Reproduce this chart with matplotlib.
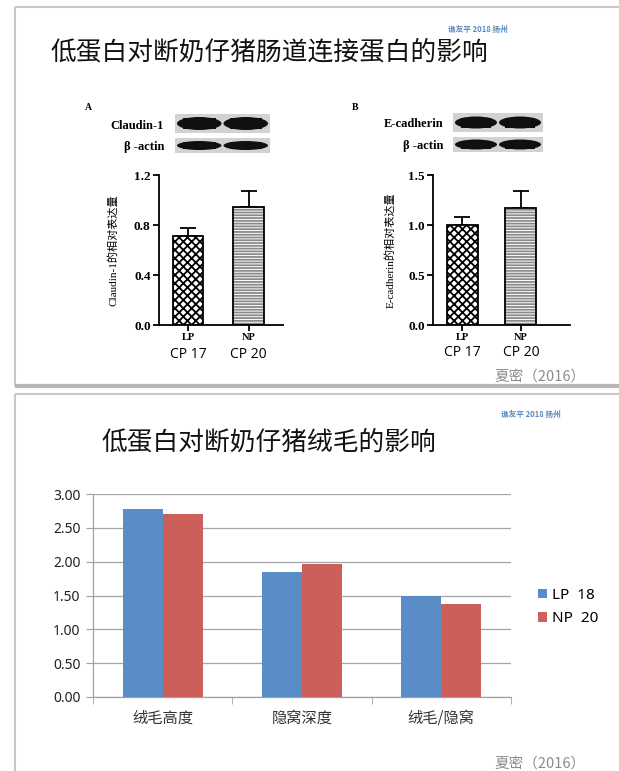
import numpy as np
import matplotlib
matplotlib.use('Agg')
import matplotlib.pyplot as plt
from matplotlib.patches import Rectangle, Ellipse

W, H = 619, 771

# ---- data ----
groups_top = ['LP', 'NP']
cp_labels_top = ['CP 17', 'CP 20']
claudin_vals = [0.71, 0.945]
claudin_err = [0.065, 0.125]
ecad_vals = [1.00, 1.175]
ecad_err = [0.078, 0.168]

villus_cats = ['绒毛高度', '隐窝深度', '绒毛/隐窝']
lp_vals = [2.78, 1.85, 1.50]
np_vals = [2.70, 1.96, 1.38]
series_names = ['LP  18', 'NP  20']

CJK = ['Noto Sans CJK SC', 'DejaVu Sans']
SERIF = ['Liberation Serif', 'Noto Sans CJK SC']
plt.rcParams['font.family'] = CJK
plt.rcParams['hatch.linewidth'] = 1.3

BLUE = '#5A8DC8'
RED = '#CD5F5B'


def rect(l, t, r, b):
    return [l / W, 1 - b / H, (r - l) / W, (b - t) / H]


fig = plt.figure(figsize=(W / 100, H / 100), dpi=100)
fig.patch.set_facecolor('white')

# overlay in pixel coords for slide frames, titles, blots
ov = fig.add_axes([0, 0, 1, 1])
ov.set_xlim(0, W)
ov.set_ylim(H, 0)
ov.axis('off')

# slide frames
ov.add_patch(Rectangle((15, 7), 640, 378, fill=False, edgecolor='#c8c8c8', lw=1.5))
ov.plot([15, 619], [385.5, 385.5], color='#b5b5b5', lw=3, solid_capstyle='butt')
ov.add_patch(Rectangle((15, 394), 640, 400, fill=False, edgecolor='#c8c8c8', lw=1.5))

# titles
ov.text(269, 53, '低蛋白对断奶仔猪肠道连接蛋白的影响', ha='center', va='center',
        fontsize=18.5, color='#111111')
ov.text(269, 443, '低蛋白对断奶仔猪绒毛的影响', ha='center', va='center',
        fontsize=18.5, color='#111111')

# watermark + captions
for x, y in [(478, 29), (531, 414)]:
    ov.text(x, y, '谯友平 2018 扬州', ha='center', va='center', fontsize=5.5,
            color='#3f74b8', fontweight='bold', alpha=0.85)
for y in [377, 764]:
    ov.text(540, y, '夏密（2016）', ha='center', va='center', fontsize=10.5,
            color='#8c8c8c')


def blot(x0, x1, y0, y1, band_h):
    ov.add_patch(Rectangle((x0, y0), x1 - x0, y1 - y0, facecolor='#d2d2d2',
                           edgecolor='none'))
    mid = (x0 + x1) / 2
    yc = (y0 + y1) / 2
    for a, b in [(x0 + 2, mid - 1), (mid + 1, x1 - 2)]:
        ov.add_patch(Ellipse(((a + b) / 2, yc), b - a, band_h,
                             facecolor='#101010', edgecolor='none'))
        ov.add_patch(Rectangle((a + 6, yc - band_h / 2 + 1), b - a - 12, band_h - 2,
                               facecolor='#101010', edgecolor='none'))


# panel A decorations
ov.text(85, 108, 'A', fontsize=7, fontweight='bold', family=SERIF, va='center')
ov.text(164, 126, 'Claudin-1', fontsize=9, fontweight='bold', family=SERIF,
        ha='right', va='center')
ov.text(164, 147, 'β -actin', fontsize=9, fontweight='bold', family=SERIF,
        ha='right', va='center')
blot(175, 270, 114, 133, 13)
blot(175, 270, 138, 153, 9)

# panel B decorations
ov.text(352, 108, 'B', fontsize=7, fontweight='bold', family=SERIF, va='center')
ov.text(443, 124, 'E-cadherin', fontsize=9, fontweight='bold', family=SERIF,
        ha='right', va='center')
ov.text(443, 146, 'β -actin', fontsize=9, fontweight='bold', family=SERIF,
        ha='right', va='center')
blot(453, 543, 113, 132, 12)
blot(453, 543, 137, 152, 10)


def western_panel(box, vals, errs, ymax, yticks, xlim, width, ylabel, ylab_x, cp_off):
    ax = fig.add_axes(rect(*box))
    ax.set_facecolor('none')
    x = np.arange(len(vals))
    # hatch layers
    b1 = ax.bar(x, vals, width, color='white', linewidth=0, zorder=2)
    b1[0].set_hatch('xxxx')
    b1[0].set_edgecolor('black')
    b1[1].set_hatch('------')
    b1[1].set_edgecolor('#8a8a8a')
    ax.bar(x, vals, width, fill=False, edgecolor='black', linewidth=1.3, zorder=3)
    ax.errorbar(x, vals, yerr=[np.zeros(len(errs)), errs], fmt='none',
                ecolor='black', elinewidth=1.3, capsize=6, capthick=1.3, zorder=1)
    ax.set_ylim(0, ymax)
    ax.set_xlim(*xlim)
    for s in ['top', 'right']:
        ax.spines[s].set_visible(False)
    for s in ['left', 'bottom']:
        ax.spines[s].set_linewidth(1.3)
    ax.set_yticks(yticks)
    ax.set_yticklabels(['%.1f' % v for v in yticks], fontsize=9.5,
                       fontweight='bold', family=SERIF)
    ax.set_xticks(x)
    ax.set_xticklabels(groups_top, fontsize=7.5, fontweight='bold', family=SERIF)
    ax.tick_params(direction='out', length=4, width=1.3, pad=2)
    ax.text(ylab_x, 0.5, ylabel, rotation=90, transform=ax.transAxes,
            ha='center', va='center', fontsize=8, family=SERIF)
    for i, lab in enumerate(cp_labels_top):
        ax.annotate(lab, (x[i], 0), xycoords=('data', 'axes fraction'),
                    xytext=(0, cp_off), textcoords='offset points', ha='center',
                    va='center', fontsize=10, family=['Open Sans', 'DejaVu Sans'])
    return ax


western_panel((159, 175, 283, 325), claudin_vals, claudin_err, 1.2,
              [0, 0.4, 0.8, 1.2], (-0.48, 1.57), 0.51,
              'Claudin-1的相对表达量', -0.37, -21.5)
western_panel((433, 175, 570, 325), ecad_vals, ecad_err, 1.5,
              [0, 0.5, 1.0, 1.5], (-0.5, 1.84), 0.53,
              'E-cadherin的相对表达量', -0.31, -19.5)

# villus chart
ax = fig.add_axes(rect(93, 494, 511, 697))
ax.set_facecolor('none')
xc = np.arange(len(villus_cats))
bw = 0.287
h1 = ax.bar(xc - bw / 2, lp_vals, bw, color=BLUE, zorder=3, label=series_names[0])
h2 = ax.bar(xc + bw / 2, np_vals, bw, color=RED, zorder=3, label=series_names[1])
ax.set_xlim(-0.5, 2.5)
ax.set_ylim(0, 3)
ax.set_yticks(np.arange(0, 3.01, 0.5))
ax.set_yticklabels(['%.2f' % v for v in np.arange(0, 3.01, 0.5)],
                   family=['Noto Sans', 'DejaVu Sans'], fontsize=10)
ax.yaxis.grid(True, color='#a6a6a6', lw=0.9, zorder=0)
ax.set_axisbelow(True)
for s in ['top', 'right']:
    ax.spines[s].set_visible(False)
for s in ['left', 'bottom']:
    ax.spines[s].set_color('#a0a0a0')
    ax.spines[s].set_linewidth(0.9)
ax.set_xticks(xc)
ax.set_xticklabels(villus_cats, fontsize=11, color='#333333')
ax.set_xticks([-0.5, 0.5, 1.5, 2.5], minor=True)
ax.tick_params(axis='x', which='major', length=0, pad=9)
ax.tick_params(axis='x', which='minor', length=5, color='#a0a0a0', direction='out')
ax.tick_params(axis='y', length=5, color='#a0a0a0', direction='out', pad=4,
               labelcolor='#222222')

fig.legend([h1, h2], series_names, loc='center left',
           bbox_to_anchor=(524 / W, 1 - 607 / H), frameon=False,
           handlelength=0.6, handleheight=0.6, handletextpad=0.3,
           labelspacing=0.55, prop={'family': ['Noto Sans', 'DejaVu Sans'], 'size': 11})

fig.savefig('out.png', dpi=100, facecolor='white')
